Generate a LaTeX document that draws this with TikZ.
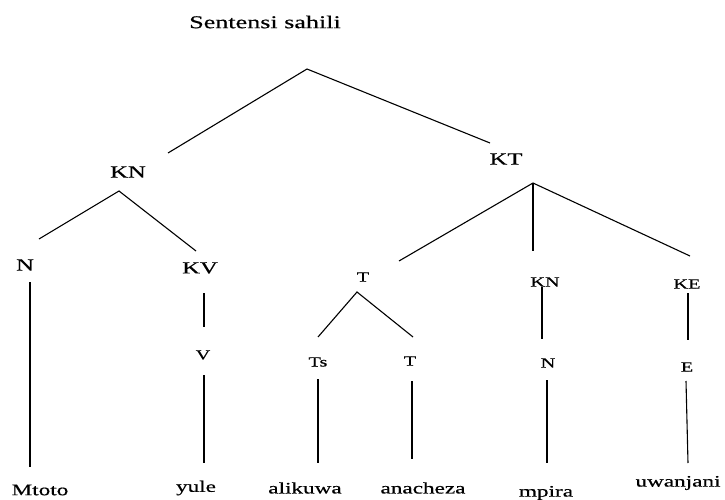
\documentclass[tikz,border=0pt]{standalone}
\usepackage{fontspec}
\setmainfont{Liberation Serif}[FakeStretch=1.45,FakeBold=0.5]
\begin{document}
\begin{tikzpicture}[x=1pt,y=-1pt,
  lbl/.style={inner sep=0pt,anchor=center},
  title/.style={lbl,font=\fontsize{18}{21}\selectfont},
  big/.style={lbl,font=\fontsize{17}{20}\selectfont},
  small/.style={lbl,font=\fontsize{14}{17}\selectfont},
  word/.style={lbl,font=\fontsize{16}{19}\selectfont},
  edge/.style={draw=black,line width=1.1pt}]
\useasboundingbox (0,0) rectangle (725,500);
% labels
\node[title] (ttl) at (265,22) {Sentensi sahili};
\node[big] (kn) at (128,172) {KN};
\node[big] (kt) at (506,159) {KT};
\node[big] (n) at (25,265) {N};
\node[big] (kv) at (200,268) {KV};
\node[small] (v) at (203,355) {V};
\node[small] (t) at (363,277) {T};
\node[small] (ts) at (318,362) {Ts};
\node[small] (t2) at (410,361) {T};
\node[small] (kn2) at (545,282) {KN};
\node[small] (n2) at (548,363) {N};
\node[small] (ke) at (687,284) {KE};
\node[small] (e) at (687,367) {E};
\node[word] (w1) at (40,490) {Mtoto};
\node[word] (w2) at (196,488) {yule};
\node[word] (w3) at (305,488) {alikuwa};
\node[word] (w4) at (423,488) {anacheza};
\node[word] (w5) at (546,493) {mpira};
\node[word] (w6) at (678,483) {uwanjani};
% connector points
\coordinate (root) at (307,69);
\coordinate (knUp) at (168,153);
\coordinate (ktUp) at (490,143);
\coordinate (knDn) at (119,191);
\coordinate (nUp) at (39,239);
\coordinate (kvUp) at (196,251);
\coordinate (ktDn) at (533,183);
\coordinate (tUp) at (399,261);
\coordinate (kn2Up) at (533,251);
\coordinate (keUp) at (690,256);
\coordinate (tDn) at (357,292);
\coordinate (tsUp) at (318,337);
\coordinate (t2Up) at (413,337);
\coordinate (nDn) at (30,282);
\coordinate (w1Up) at (30,467);
\coordinate (kvDn) at (204,293);
\coordinate (vUp) at (204,327);
\coordinate (vDn) at (204,375);
\coordinate (w2Up) at (204,463);
\coordinate (tsDn) at (318,379);
\coordinate (w3Up) at (318,463);
\coordinate (t2Dn) at (412,381);
\coordinate (w4Up) at (412,459);
\coordinate (kn2Dn) at (542,287);
\coordinate (n2Up) at (542,339);
\coordinate (n2Dn) at (547,380);
\coordinate (w5Up) at (547,463);
\coordinate (keDn) at (688,293);
\coordinate (eUp) at (688,340);
\coordinate (eDn) at (686,381);
\coordinate (w6Up) at (688,463);
% connectors
\draw[edge] (knUp) -- (root) -- (ktUp);
\draw[edge] (nUp) -- (knDn) -- (kvUp);
\draw[edge] (tUp) -- (ktDn) -- (keUp);
\draw[edge] (ktDn) -- (kn2Up);
\draw[edge] (tsUp) -- (tDn) -- (t2Up);
\draw[edge] (nDn) -- (w1Up);
\draw[edge] (kvDn) -- (vUp);
\draw[edge] (vDn) -- (w2Up);
\draw[edge] (tsDn) -- (w3Up);
\draw[edge] (t2Dn) -- (w4Up);
\draw[edge] (kn2Dn) -- (n2Up);
\draw[edge] (n2Dn) -- (w5Up);
\draw[edge] (keDn) -- (eUp);
\draw[edge] (eDn) -- (w6Up);
\end{tikzpicture}
\end{document}
